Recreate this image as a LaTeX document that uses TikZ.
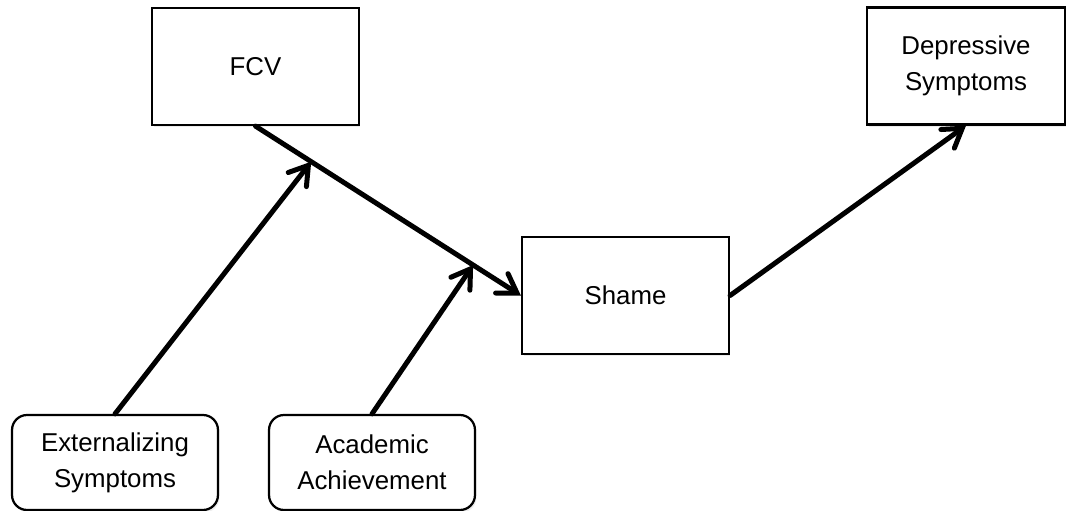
\documentclass[tikz,border=0pt]{standalone}
\usepackage{fontspec}
\setmainfont{Liberation Sans}
\usetikzlibrary{arrows.meta,shadows}
\begin{document}
\begin{tikzpicture}[
		x=0.02cm, y=-0.02cm,
		factor/.style={rectangle, draw, line width=0.045cm, fill=white,
			minimum width=4.14cm, minimum height=2.34cm, inner sep=0pt, align=center,
			font=\fontsize{14.7}{20.5}\selectfont,
			drop shadow={shadow xshift=0.03cm, shadow yshift=-0.05cm, opacity=0.15}},
		predictor/.style={factor, rounded corners=0.3cm,
			minimum width=4.12cm, minimum height=1.9cm},
		effect/.style={line width=0.1cm, line cap=round,
			-{Straight Barb[length=0.36cm, width=0.46cm, line cap=round]}},
	]
	\useasboundingbox (0,0) rectangle (1066,511);

	% mediator chain
	\node[factor] (fcv)   at (255.5, 66.5)  {FCV};
	\node[factor] (shame) at (625.5, 295.5) {Shame};
	\node[factor, minimum width=3.96cm] (dep) at (966, 66) {Depressive\\Symptoms};

	% predictors
	\node[predictor] (ext)  at (115, 462.5) {Externalizing\\Symptoms};
	\node[predictor] (acad) at (372, 462.5) {Academic\\Achievement};

	% FCV -> Shame, with the points where the predictors join
	\draw[effect] (fcv.south) -- (shame.west)
		coordinate[pos=0.21] (j1) coordinate[pos=0.82] (j2);

	% predictors onto the FCV -- Shame path
	\draw[effect] (ext.north)  -- (j1);
	\draw[effect] (acad.north) -- (j2);

	% Shame -> Depressive Symptoms
	\draw[effect] (shame.east) -- (dep.south);
\end{tikzpicture}
\end{document}
